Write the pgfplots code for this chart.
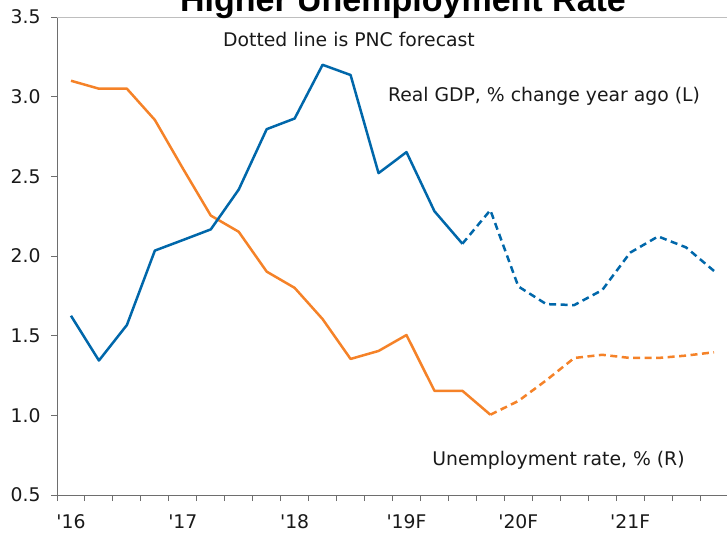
\documentclass[border=0pt]{standalone}
\usepackage{fontspec}
\setmainfont{DejaVu Sans}
\newfontfamily\titlefont{Liberation Sans}
\usepackage{pgfplots}
\pgfplotsset{compat=1.18}
\definecolor{gdpblue}{RGB}{0,103,170}
\definecolor{unorange}{RGB}{245,130,40}
\definecolor{axisgray}{RGB}{110,110,110}
\definecolor{topgray}{RGB}{190,190,190}
\definecolor{txt}{RGB}{25,25,25}
\newcommand{\lbl}{\fontsize{18.8}{22}\selectfont}
\begin{document}
\begin{tikzpicture}
\begin{axis}[
  at={(57pt,-495pt)}, anchor=south west,
  scale only axis, width=671pt, height=478pt,
  xmin=-0.5, xmax=23.5, ymin=0.5, ymax=3.5,
  axis x line*=bottom, axis y line*=left,
  axis line style={axisgray, line width=1pt},
  ytick={0.5,1,1.5,2,2.5,3,3.5},
  xtick={0,4,8,12,16,20},
  xticklabels={\textquotesingle16,\textquotesingle17,\textquotesingle18,\textquotesingle19F,\textquotesingle20F,\textquotesingle21F},
  minor xtick={-0.5,0.5,...,22.5},
  tick align=outside,
  major tick length=6pt, minor tick length=6pt,
  major x tick style={draw=none},
  minor x tick style={draw=axisgray, line width=1pt},
  ytick style={draw=axisgray, line width=1pt},
  extra y ticks={3.5}, extra y tick labels={},
  extra y tick style={grid=major, major grid style={topgray, line width=1pt}},
  tick label style={font=\lbl, text=txt},
  xticklabel style={yshift=-10pt},
  yticklabel style={xshift=-7pt, /pgf/number format/.cd, fixed, fixed zerofill, precision=1, assume math mode=true},
  clip=false,
]
\addplot[unorange, line width=2.5pt, line join=round] coordinates {
(0,3.10) (1,3.05) (2,3.05) (3,2.854) (4,2.55) (5,2.254) (6,2.152) (7,1.902)
(8,1.80) (9,1.604) (10,1.354) (11,1.404) (12,1.504) (13,1.154) (14,1.154) (15,1.004)};
\addplot[unorange, line width=2.5pt, line join=round, dash pattern=on 7pt off 4.5pt] coordinates {
(15,1.004) (16,1.09) (17,1.22) (18,1.36) (19,1.38) (20,1.36) (21,1.36) (22,1.375) (23,1.396)};
\addplot[gdpblue, line width=2.5pt, line join=round] coordinates {
(0,1.625) (1,1.344) (2,1.567) (3,2.034) (4,2.10) (5,2.167) (6,2.417) (7,2.796)
(8,2.863) (9,3.20) (10,3.136) (11,2.52) (12,2.652) (13,2.281) (14,2.077)};
\addplot[gdpblue, line width=2.5pt, line join=round, dash pattern=on 7pt off 4.5pt] coordinates {
(14,2.077) (15,2.288) (16,1.809) (17,1.698) (18,1.692) (19,1.786) (20,2.021) (21,2.123) (22,2.054) (23,1.906)};
\end{axis}
\node[anchor=base, font=\lbl, text=txt] at (349pt,-46.7pt) {Dotted line is PNC forecast};
\node[anchor=base, font=\lbl, text=txt] at (544pt,-101.5pt) {Real GDP, \% change year ago (L)};
\node[anchor=base, font=\lbl, text=txt] at (558.5pt,-465pt) {Unemployment rate, \% (R)};
\node[anchor=base, font=\titlefont\bfseries\fontsize{34}{40}\selectfont, text=black] at (403pt,-11.7pt) {Higher Unemployment Rate};
\pgfresetboundingbox
\useasboundingbox (0pt,0pt) rectangle (727pt,-535pt);
\end{tikzpicture}
\end{document}
